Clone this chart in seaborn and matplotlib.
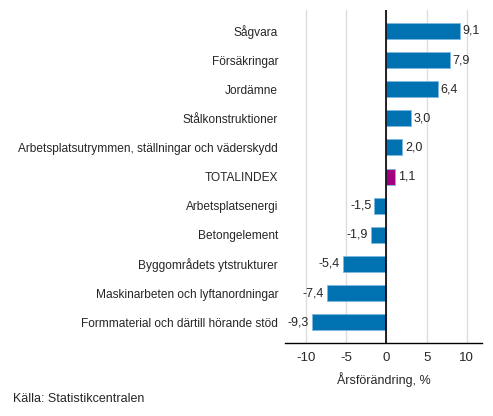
import numpy as np
import pandas as pd
import seaborn as sns
import matplotlib.pyplot as plt

sns.set_style("white")
plt.rcParams['font.family'] = ['Liberation Sans', 'DejaVu Sans']

categories = [
    "Sågvara",
    "Försäkringar",
    "Jordämne",
    "Stålkonstruktioner",
    "Arbetsplatsutrymmen, ställningar och väderskydd",
    "TOTALINDEX",
    "Arbetsplatsenergi",
    "Betongelement",
    "Byggområdets ytstrukturer",
    "Maskinarbeten och lyftanordningar",
    "Formmaterial och därtill hörande stöd",
]
values = [9.1, 7.9, 6.4, 3.0, 2.0, 1.1, -1.5, -1.9, -5.4, -7.4, -9.3]
bar_colors = ["#0072B2" if c != "TOTALINDEX" else "#A2007E" for c in categories]

df = pd.DataFrame({"category": categories, "value": values})

fig = plt.figure(figsize=(4.93, 4.16), dpi=100)
ax = fig.add_axes([0.578, 0.175, 0.400, 0.801])

sns.barplot(data=df, x="value", y="category", hue="category", palette=bar_colors,
            saturation=1, legend=False, width=0.55, ax=ax,
            edgecolor="#7fb8e0", linewidth=0.6)

# value labels
for i, v in enumerate(values):
    txt = f"{v:.1f}".replace(".", ",")
    if v >= 0:
        ax.text(v + 0.35, i, txt, va="center", ha="left", fontsize=9)
    else:
        ax.text(v - 0.35, i, txt, va="center", ha="right", fontsize=9)

ax.set_xlim(-12.6, 11.9)
ax.set_ylim(10.72, -0.72)
ax.set_xticks([-10, -5, 0, 5, 10])
ax.set_xticklabels(["-10", "-5", "0", "5", "10"])
ax.grid(axis="x", color="#dddddd", linewidth=1)
ax.set_axisbelow(True)
ax.axvline(0, color="black", linewidth=1.2)

for s in ["top", "right", "left"]:
    ax.spines[s].set_visible(False)
ax.spines["bottom"].set_color("black")
ax.spines["bottom"].set_linewidth(1)

ax.tick_params(axis="y", length=0, pad=5, labelsize=8.6)
ax.tick_params(axis="x", length=0, pad=6, labelsize=9.5)
ax.set_ylabel("")
ax.set_xlabel("Årsförändring, %", fontsize=9, labelpad=6)

fig.text(0.026, 0.04, "Källa: Statistikcentralen", fontsize=9, va="center", ha="left")

fig.savefig("out.png", dpi=100)
